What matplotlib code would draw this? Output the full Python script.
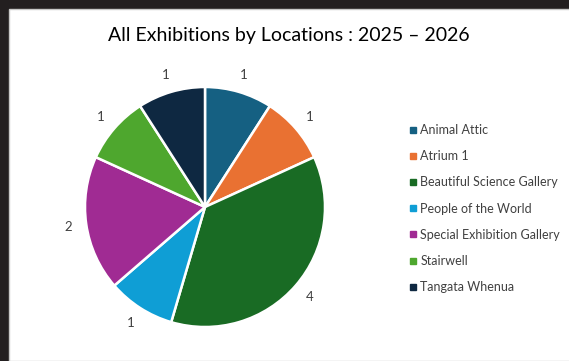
import matplotlib.pyplot as plt
from matplotlib.patches import Rectangle
from matplotlib.lines import Line2D

locations = ["Animal Attic", "Atrium 1", "Beautiful Science Gallery", "People of the World",
             "Special Exhibition Gallery", "Stairwell", "Tangata Whenua"]
counts = [1, 1, 4, 1, 2, 1, 1]
colors = ["#156082", "#E97132", "#196B24", "#0F9ED5", "#A02B93", "#4EA72E", "#0E2841"]

plt.rcParams['font.family'] = ['Lato', 'DejaVu Sans']

W, H = 569, 361
fig = plt.figure(figsize=(W / 100, H / 100), dpi=100)
fig.patch.set_facecolor("#231f20")

# white chart area inside the dark frame
fig.patches.append(Rectangle((9 / W, 0), 1, (H - 9) / H, transform=fig.transFigure,
                             facecolor="white", edgecolor="#c8c8c8", linewidth=1, zorder=-1))

# pie: centre (205, 207) px, radius 120 px
cx, cy, r = 205, 207, 120
ax = fig.add_axes([(cx - r) / W, (H - cy - r) / H, 2 * r / W, 2 * r / H])
ax.set_zorder(2)
wedges, texts = ax.pie(counts, colors=colors, startangle=90, counterclock=False,
                       labels=[str(c) for c in counts], labeldistance=1.15,
                       wedgeprops=dict(edgecolor="white", linewidth=1.8),
                       textprops=dict(color="#404040", fontsize=9.5))
for t in texts:
    t.set_horizontalalignment("center")
    t.set_verticalalignment("center")
ax.set_xlim(-1, 1)
ax.set_ylim(-1, 1)
ax.set_aspect("equal")

fig.text(289 / W, 1 - 35 / H, "All Exhibitions by Locations : 2025 \u2013 2026",
         ha="center", va="center", fontsize=14, color="black")

handles = [Line2D([], [], marker="s", linestyle="", markersize=5, color=c) for c in colors]
fig.legend(handles, locations, loc="upper left", bbox_to_anchor=(403 / W, 1 - 118 / H),
           frameon=False, fontsize=9, labelcolor="#404040", handlelength=0.6,
           handletextpad=0.3, labelspacing=1.13, borderpad=0)

fig.savefig("out.png", dpi=100)
